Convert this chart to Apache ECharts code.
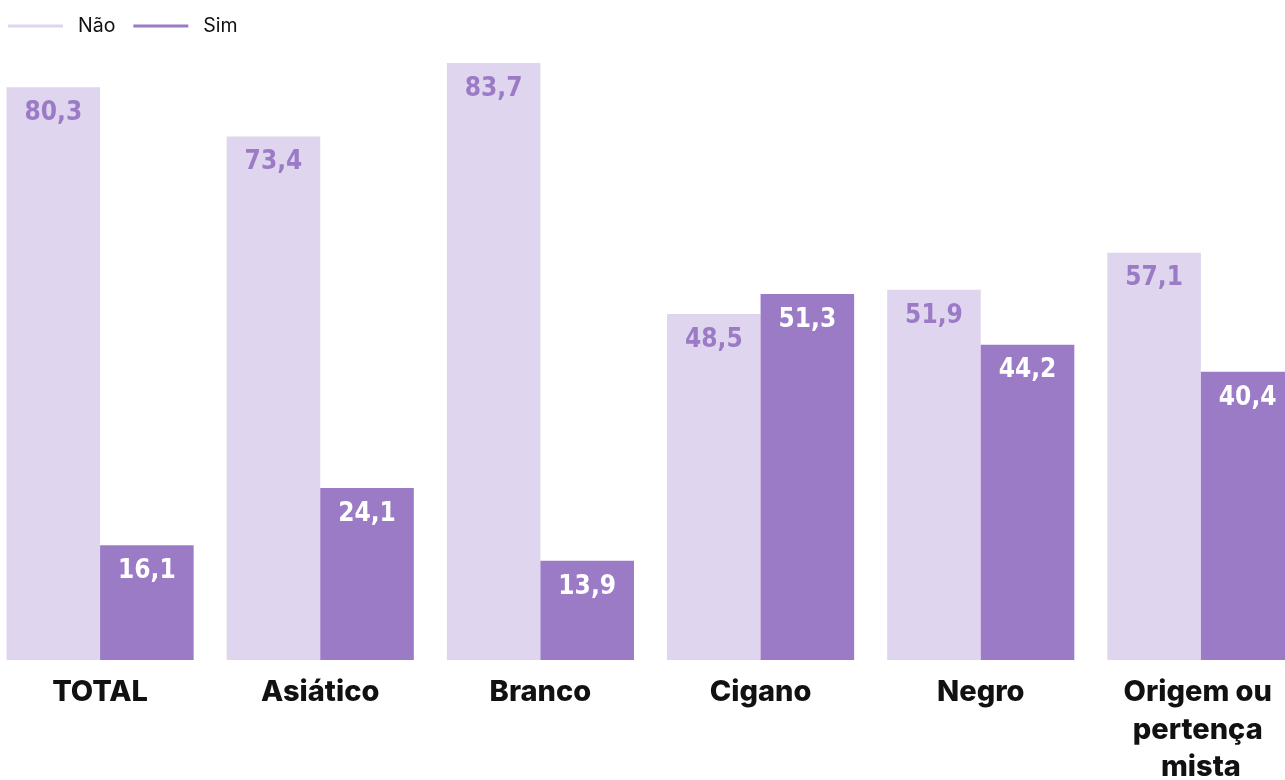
<!DOCTYPE html>
<html><head><meta charset="utf-8">
<script src="https://cdn.jsdelivr.net/npm/echarts@6/dist/echarts.min.js"></script>
<style>html,body{margin:0;padding:0;background:#fff}#c{width:1285px;height:780px}</style>
</head><body><div id="c"></div>
<script>
const categories = ["TOTAL", "Asiático", "Branco", "Cigano", "Negro", "Origem ou pertença mista"];
const naoValues = [80.3, 73.4, 83.7, 48.5, 51.9, 57.1];
const simValues = [16.1, 24.1, 13.9, 51.3, 44.2, 40.4];
const seriesNames = ["Não", "Sim"];

const fmt = p => p.value.toFixed(1).replace('.', ',');
const labelFont = 'DejaVu Sans Condensed';
const chart = echarts.init(document.getElementById('c'));
chart.setOption({
  animation: false,
  legend: {
    left: 3, top: 11,
    icon: 'rect', itemWidth: 55, itemHeight: 3, itemGap: 18,
    textStyle: { fontFamily: 'Inter', fontSize: 19.5, color: '#111', padding: [0, 0, 0, 10] },
    data: seriesNames
  },
  grid: { left: -10, width: 1321, top: 18, bottom: 120, containLabel: false, outerBoundsMode: 'none' },
  xAxis: {
    type: 'category', data: categories,
    axisLine: { show: false }, axisTick: { show: false },
    axisLabel: {
      interval: 0, margin: 14, width: 180, overflow: 'break',
      fontFamily: 'Inter', fontWeight: 800, fontSize: 29, color: '#111', lineHeight: 37.5
    }
  },
  yAxis: { type: 'value', min: 0, max: 90, show: false, splitLine: { show: false } },
  series: [
    {
      name: seriesNames[0], type: 'bar', data: naoValues, barGap: '0%', barCategoryGap: '15%',
      itemStyle: { color: '#e0d5ee' },
      label: { show: true, position: 'insideTop', distance: 13, formatter: fmt,
        fontFamily: labelFont, fontWeight: 'bold', fontSize: 26, color: '#9b7bc6' }
    },
    {
      name: seriesNames[1], type: 'bar', data: simValues,
      itemStyle: { color: '#9b7bc6' },
      label: { show: true, position: 'insideTop', distance: 13, formatter: fmt,
        fontFamily: labelFont, fontWeight: 'bold', fontSize: 26, color: '#ffffff' }
    }
  ]
});
</script></body></html>
